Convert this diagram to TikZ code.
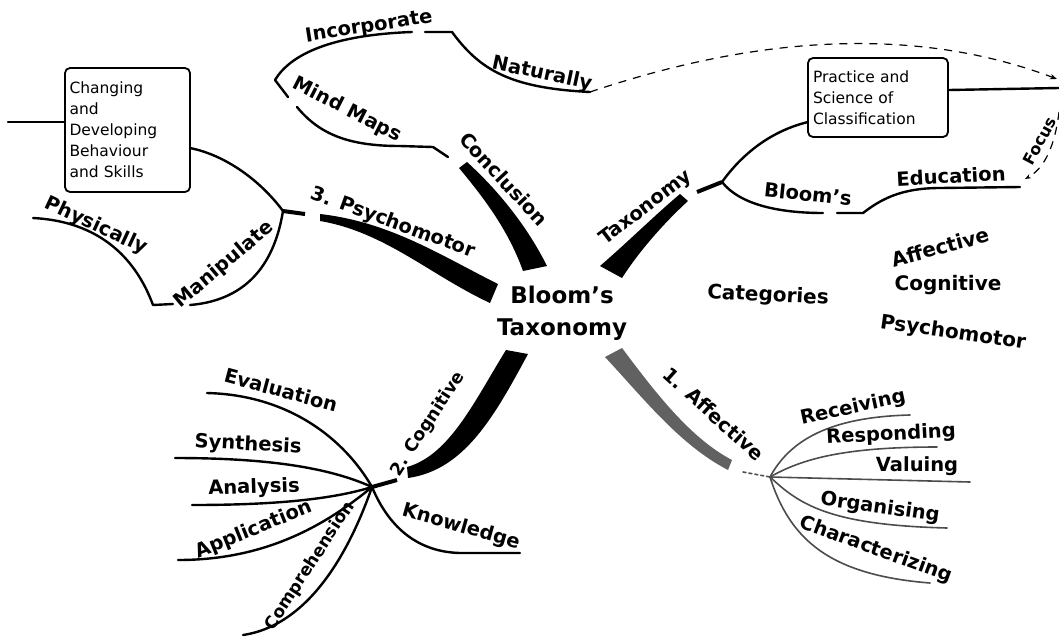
\documentclass[tikz,border=0pt]{standalone}
\usepackage{fontspec}
\setmainfont{DejaVu Sans}
\usetikzlibrary{arrows.meta}
\begin{document}
\begin{tikzpicture}[x=1pt,y=-1pt,
  br/.style={line width=2.4pt,line cap=round,line join=round},
  gbr/.style={line width=1.6pt,black!70,line cap=round},
  stub/.style={line width=4pt},
  trunk/.style={fill=black},
  lbl/.style={font=\fontsize{19.5}{22}\selectfont\bfseries,inner sep=0pt},
  cat/.style={font=\fontsize{20}{22}\selectfont\bfseries,inner sep=0pt},
  box/.style={draw,line width=1.8pt,rounded corners=5pt,font=\fontsize{15.5}{21}\selectfont,align=left,inner sep=0pt},
  dsh/.style={dash pattern=on 8pt off 7pt,line width=1.2pt}
]
\useasboundingbox (0,0) rectangle (1059,638);

% centre
\node[font=\fontsize{23}{32}\selectfont\bfseries,align=center,inner sep=0pt] (c) at (562,313) {Bloom's\\Taxonomy};

% boxes
\node[box,minimum width=125pt,minimum height=124pt,text width=116pt] (b1) at (127.5,130) {Changing\\and\\Developing\\Behaviour\\and Skills};
\node[box,minimum width=140pt,minimum height=79pt,text width=130pt] (b2) at (878,97.5) {Practice and\\Science of\\Classification};

% trunks
\fill[trunk] (320,214) .. controls (390,222) and (440,255) .. (498,284) -- (490,303) .. controls (430,275) and (385,232) .. (320,221) -- cycle;
\fill[trunk] (459,168) .. controls (490,205) and (510,235) .. (523,271) -- (547,266) .. controls (528,228) and (500,192) .. (467,162) -- cycle;
\fill[trunk] (600,266) .. controls (630,240) and (655,215) .. (680,194) -- (688,201) .. controls (665,222) and (640,250) .. (622,278) -- cycle;
\fill[trunk] (506,350) .. controls (475,400) and (450,455) .. (407,467) -- (408,478) .. controls (465,470) and (495,415) .. (528,354) -- cycle;
\fill[black!62] (605,357) .. controls (645,400) and (680,445) .. (728,470) -- (732,460) .. controls (690,438) and (655,392) .. (622,348) -- cycle;

% junctions
\coordinate (j3) at (283,211);
\coordinate (j3s) at (305,214);
\coordinate (j2) at (372,487);
\coordinate (j2s) at (397,480);
\coordinate (j1) at (722,182);
\coordinate (j1s) at (697,192);
\coordinate (j4) at (770,477);
\coordinate (j4s) at (743,472);
\draw[stub] (j3) -- (j3s);
\draw[stub] (j2) -- (j2s);
\draw[stub] (j1) -- (j1s);
\draw[gbr,dashed] (j4s) -- (j4);

% psychomotor side
\coordinate (e1) at (8,122);
\draw[br] (e1) -- (e1 -| b1.west);
\coordinate (b1r) at (190,148);
\draw[br] (j3) .. controls (260,180) and (225,155) .. (b1r);
\coordinate (man) at (190,305);
\draw[br] (j3) .. controls (275,260) and (250,300) .. (man);
\coordinate (phy0) at (33,218);
\coordinate (phy1) at (153,305);
\coordinate (phy2) at (173,304);
\draw[br] (phy0) .. controls (110,222) and (140,270) .. (phy1) -- (phy2);

% conclusion side
\coordinate (mm0) at (297,107);
\coordinate (mm1) at (433,147);
\coordinate (mm2) at (448,157);
\draw[br] (mm0) .. controls (320,135) and (350,146) .. (400,146) -- (mm1) -- (mm2);
\coordinate (in0) at (288,97);
\coordinate (in1) at (275,80);
\coordinate (in2) at (412,32);
\draw[br] (in0) -- (in1) .. controls (290,55) and (330,35) .. (in2);
\coordinate (na0) at (425,32);
\coordinate (na1) at (452,32);
\coordinate (na2) at (590,92);
\draw[br] (na0) -- (na1) .. controls (480,70) and (510,88) .. (na2);
\coordinate (top) at (1057,79);
\draw[dsh,-{Stealth[length=7pt]}] (na2) .. controls (700,55) and (880,12) .. (top);

% taxonomy side
\coordinate (b2l) at (808,122);
\draw[br] (j1) .. controls (745,150) and (775,130) .. (b2l);
\coordinate (bl1) at (823,213);
\draw[br] (j1) .. controls (740,205) and (780,213) .. (bl1);
\coordinate (ed0) at (837,213);
\coordinate (ed1) at (863,213);
\coordinate (ed2) at (1020,187);
\draw[br] (ed0) -- (ed1) .. controls (880,200) and (900,188) .. (940,188) -- (ed2);
\coordinate (e2) at (1059,88);
\draw[br] (b2.east |- 0,90) -- (e2);
\coordinate (fs) at (1059,112);
\coordinate (fe) at (1025,179);
\draw[dsh,-{Stealth[length=6pt]}] (fs) .. controls (1055,145) and (1045,168) .. (fe);
\node[font=\fontsize{16}{18}\selectfont\bfseries,fill=white,inner sep=1pt,rotate=62] (focus) at (1040,141) {Focus};

% cognitive side
\coordinate (ev) at (207,393);
\coordinate (sy) at (175,458);
\coordinate (an) at (192,505);
\coordinate (ap) at (178,560);
\coordinate (co) at (243,635);
\coordinate (kn) at (520,553);
\draw[br] (ev) .. controls (290,395) and (345,440) .. (j2);
\draw[br] (sy) .. controls (270,458) and (330,468) .. (j2);
\draw[br] (an) .. controls (270,505) and (330,500) .. (j2);
\draw[br] (ap) .. controls (260,560) and (320,530) .. (j2);
\draw[br] (co) .. controls (310,625) and (350,550) .. (j2);
\draw[br] (j2) .. controls (390,530) and (420,552) .. (460,553) -- (kn);

% affective side
\coordinate (re) at (910,415);
\coordinate (rs) at (937,447);
\coordinate (va) at (970,482);
\coordinate (or) at (947,528);
\coordinate (ch) at (930,583);
\draw[gbr] (j4) .. controls (790,440) and (830,417) .. (re);
\draw[gbr] (j4) .. controls (800,460) and (840,447) .. (rs);
\draw[gbr] (j4) -- (va);
\draw[gbr] (j4) .. controls (800,505) and (830,525) .. (or);
\draw[gbr] (j4) .. controls (790,540) and (830,575) .. (ch);

% labels
\node[lbl,rotate=9] (lInc) at (369,27) {Incorporate};
\node[lbl,rotate=-12] (lNat) at (542,74) {Naturally};
\node[lbl,rotate=-27] (lMM) at (347,110) {Mind Maps};
\node[lbl,rotate=-47] (lCon) at (504,179) {Conclusion};
\node[lbl,rotate=-20] (lPsy) at (393,223) {3. Psychomotor};
\node[lbl,rotate=40] (lMan) at (224,265) {Manipulate};
\node[lbl,rotate=-25] (lPhy) at (96,226) {Physically};
\node[lbl,rotate=37] (lTax) at (646,208) {Taxonomy};
\node[lbl,rotate=-6] (lBl) at (808,194) {Bloom's};
\node[lbl,rotate=3] (lEd) at (951,176) {Education};
\node[cat,rotate=-3] (lCat) at (768,296) {Categories};
\node[cat,rotate=15] (lAff) at (940,247) {Affective};
\node[cat] (lCog) at (948,285) {Cognitive};
\node[cat,rotate=-8] (lPsy2) at (953,333) {Psychomotor};
\node[lbl,font=\fontsize{17.5}{20}\selectfont\bfseries,rotate=57] (lCg) at (428,424) {2. Cognitive};
\node[lbl,rotate=-15] (lEv) at (281,390) {Evaluation};
\node[lbl,rotate=-3] (lSy) at (248,445) {Synthesis};
\node[lbl,rotate=2] (lAn) at (254,488) {Analysis};
\node[lbl,rotate=22] (lAp) at (254,530) {Application};
\node[lbl,font=\fontsize{17}{20}\selectfont\bfseries,rotate=57] (lCo) at (310,566) {Comprehension};
\node[lbl,rotate=-16] (lKn) at (461,527) {Knowledge};
\node[lbl,rotate=-42] (lAf) at (714,414) {1. Affective};
\node[lbl,rotate=12] (lRe) at (853,408) {Receiving};
\node[lbl,rotate=3] (lRs) at (891,435) {Responding};
\node[lbl] (lVa) at (917,466) {Valuing};
\node[lbl,rotate=-8] (lOr) at (880,508) {Organising};
\node[lbl,rotate=-20] (lCh) at (876,550) {Characterizing};
\end{tikzpicture}
\end{document}
